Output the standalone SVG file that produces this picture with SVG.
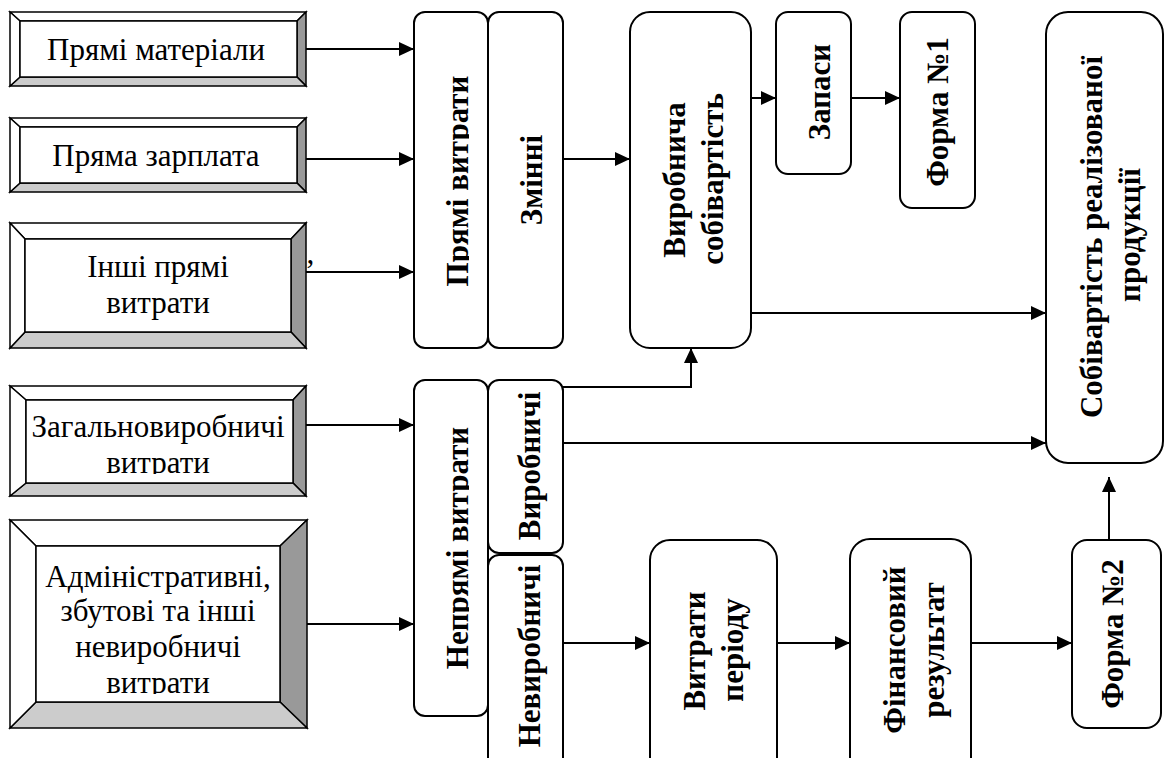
<svg xmlns="http://www.w3.org/2000/svg" width="1168" height="758" viewBox="0 0 1168 758">
<style>
.bev{stroke:#000;stroke-width:1.5;stroke-linejoin:miter}
.w{fill:#fff}.d{fill:#999}.l{fill:#ccc}
.in{fill:#fff;stroke:#000;stroke-width:1.5}
.t{font-family:"Liberation Serif","Times New Roman",serif;font-size:31px;fill:#000;text-anchor:middle}
.b{font-family:"Liberation Serif","Times New Roman",serif;font-size:31px;font-weight:bold;fill:#000;text-anchor:middle}
.box{fill:#fff;stroke:#000;stroke-width:2}
.c{fill:none;stroke:#000;stroke-width:2}
</style>
<defs>
<marker id="ah" markerUnits="userSpaceOnUse" markerWidth="16" markerHeight="14" refX="15" refY="7" orient="auto">
<path d="M0,0 L15,7 L0,14 z" fill="#000"/>
</marker>
<clipPath id="clip4"><rect x="20" y="395" width="280" height="79"/></clipPath>
<clipPath id="clip5"><rect x="30" y="540" width="260" height="154"/></clipPath>
<clipPath id="clipP"><rect x="420" y="12" width="49" height="336"/></clipPath>
<clipPath id="clipN"><rect x="420" y="380" width="49" height="336"/></clipPath>
</defs>

<g id="n-materials">
<polygon class="bev w" points="10,12 306,12 297,21 20,21"/>
<polygon class="bev d" points="306,12 306,86 297,77 297,21"/>
<polygon class="bev l" points="10,86 306,86 297,77 20,77"/>
<polygon class="bev w" points="10,12 20,21 20,77 10,86"/>
<rect class="in" x="20" y="21" width="277" height="56"/>
<text class="t" x="156" y="60">Прямі матеріали</text>
</g>

<g id="n-salary">
<polygon class="bev w" points="10,118 306,118 297,127 20,127"/>
<polygon class="bev d" points="306,118 306,192 297,183 297,127"/>
<polygon class="bev l" points="10,192 306,192 297,183 20,183"/>
<polygon class="bev w" points="10,118 20,127 20,183 10,192"/>
<rect class="in" x="20" y="127" width="277" height="56"/>
<text class="t" x="156" y="166">Пряма зарплата</text>
</g>

<g id="n-other">
<polygon class="bev w" points="10,223 306,223 291,239 25,239"/>
<polygon class="bev d" points="306,223 306,348 291,332 291,239"/>
<polygon class="bev l" points="10,348 306,348 291,332 25,332"/>
<polygon class="bev w" points="10,223 25,239 25,332 10,348"/>
<rect class="in" x="25" y="239" width="266" height="93"/>
<text class="t" x="158" y="277">Інші прямі</text>
<text class="t" x="158" y="313">витрати</text>
<text class="t" x="305" y="281" style="text-anchor:start">’</text>
</g>

<g id="n-general">
<polygon class="bev w" points="10,386 306,386 293,400 26,400"/>
<polygon class="bev d" points="306,386 306,496 293,483 293,400"/>
<polygon class="bev l" points="10,496 306,496 293,483 26,483"/>
<polygon class="bev w" points="10,386 26,400 26,483 10,496"/>
<rect class="in" x="26" y="400" width="267" height="83"/>
<g clip-path="url(#clip4)">
<text class="t" x="158" y="437">Загальновиробничі</text>
<text class="t" x="158" y="473">витрати</text>
</g>
</g>

<g id="n-admin">
<polygon class="bev w" points="10,520 307,520 280,546 36,546"/>
<polygon class="bev d" points="307,520 307,728 280,702 280,546"/>
<polygon class="bev l" points="10,728 307,728 280,702 36,702"/>
<polygon class="bev w" points="10,520 36,546 36,702 10,728"/>
<rect class="in" x="36" y="546" width="244" height="156"/>
<g clip-path="url(#clip5)">
<text class="t" x="158" y="587">Адміністративні,</text>
<text class="t" x="158" y="621">збутові та інші</text>
<text class="t" x="158" y="657">невиробничі</text>
<text class="t" x="158" y="693">витрати</text>
</g>
</g>

<g id="n-direct">
<rect class="box" x="414" y="12" width="74" height="336" rx="11"/>
<g clip-path="url(#clipP)"><text class="b" transform="translate(468,181) rotate(-90)">Прямі витрати</text></g>
</g>
<g id="n-variable">
<rect class="box" x="488" y="12" width="75" height="336" rx="11"/>
<text class="b" transform="translate(542,180) rotate(-90)">Змінні</text>
</g>
<g id="n-prodcost">
<rect class="box" x="630" y="12" width="121" height="336" rx="20"/>
<text class="b" transform="translate(685,180) rotate(-90)">Виробнича</text>
<text class="b" transform="translate(723,179) rotate(-90)">собівартість</text>
</g>
<g id="n-stock">
<rect class="box" x="776" y="12" width="75" height="162" rx="12"/>
<text class="b" transform="translate(830,92) rotate(-90)">Запаси</text>
</g>
<g id="n-form1">
<rect class="box" x="900" y="12" width="75" height="196" rx="12"/>
<text class="b" transform="translate(948,112) rotate(-90)">Форма №1</text>
</g>
<g id="n-cogs">
<rect class="box" x="1046" y="12" width="117" height="451" rx="22"/>
<text class="b" transform="translate(1102,237) rotate(-90)">Собівартість реалізованої</text>
<text class="b" transform="translate(1140,235) rotate(-90)">продукції</text>
</g>
<g id="n-indirect">
<rect class="box" x="414" y="380" width="74" height="336" rx="11"/>
<g clip-path="url(#clipN)"><text class="b" transform="translate(468,548) rotate(-90)">Непрямі витрати</text></g>
</g>
<g id="n-production">
<rect class="box" x="488" y="380" width="75" height="173" rx="11"/>
<text class="b" transform="translate(540,466) rotate(-90)">Виробничі</text>
</g>
<g id="n-nonproduction">
<rect class="box" x="488" y="555" width="75" height="225" rx="11"/>
<text class="b" transform="translate(540,656) rotate(-90)">Невиробничі</text>
</g>
<g id="n-period">
<rect class="box" x="650" y="540" width="127" height="240" rx="20"/>
<text class="b" transform="translate(705,651) rotate(-90)">Витрати</text>
<text class="b" transform="translate(743,650) rotate(-90)">періоду</text>
</g>
<g id="n-finresult">
<rect class="box" x="850" y="539" width="121" height="241" rx="20"/>
<text class="b" transform="translate(905,650) rotate(-90)">Фінансовий</text>
<text class="b" transform="translate(944,650) rotate(-90)">результат</text>
</g>
<g id="n-form2">
<rect class="box" x="1072" y="540" width="89" height="188" rx="15"/>
<text class="b" transform="translate(1123,634) rotate(-90)">Форма №2</text>
</g>

<g id="connectors" class="c">
<path class="c" d="M306,49 H414" marker-end="url(#ah)"/>
<path class="c" d="M306,159 H414" marker-end="url(#ah)"/>
<path class="c" d="M306,272 H414" marker-end="url(#ah)"/>
<path class="c" d="M306,425 H414" marker-end="url(#ah)"/>
<path class="c" d="M307,624 H414" marker-end="url(#ah)"/>
<path class="c" d="M563,159 H630" marker-end="url(#ah)"/>
<path class="c" d="M751,98 H776" marker-end="url(#ah)"/>
<path class="c" d="M851,98 H900" marker-end="url(#ah)"/>
<path class="c" d="M751,313 H1046" marker-end="url(#ah)"/>
<path class="c" d="M563,387 H691 V348" marker-end="url(#ah)"/>
<path class="c" d="M563,443 H1046" marker-end="url(#ah)"/>
<path class="c" d="M563,643 H650" marker-end="url(#ah)"/>
<path class="c" d="M777,643 H850" marker-end="url(#ah)"/>
<path class="c" d="M971,643 H1072" marker-end="url(#ah)"/>
<path class="c" d="M1109,540 V477" marker-end="url(#ah)"/>
</g>
</svg>
